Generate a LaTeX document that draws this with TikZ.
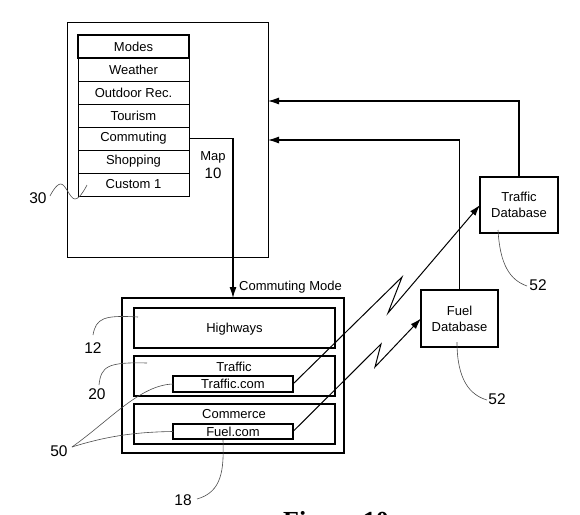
\documentclass[tikz,border=0pt]{standalone}
\usepackage{fontspec}
\setmainfont{Liberation Sans}
\newfontfamily\figfont{Liberation Serif}
\usetikzlibrary{arrows.meta}
\begin{document}
\begin{tikzpicture}[x=1pt,y=-1pt,
  box/.style={draw,line width=1.1pt,inner sep=0pt,outer sep=0pt},
  row/.style={draw,line width=0.9pt,inner sep=0pt,outer sep=0pt,minimum width=111pt,minimum height=23pt,font=\fontsize{13}{15}\selectfont},
  txt/.style={font=\fontsize{13}{15}\selectfont,inner sep=0pt},
  lbl/.style={font=\fontsize{15.5}{17}\selectfont,inner sep=0pt},
  lead/.style={draw=black!70,line width=0.6pt},
  conn/.style={draw,line width=1.1pt},
  arr/.style={-{Latex[length=11pt,width=7pt]}}]
\useasboundingbox (0,0) rectangle (580,514);
% Map box
\node[box,line width=1pt,minimum width=201pt,minimum height=235pt] (map) at (167.5,139.5) {};
\node[row,line width=2.6pt] (modes) at (133.5,46.5) {Modes};
\node[row] (weather) at (133.5,69.5) {Weather};
\node[row] (outdoor) at (133.5,92.5) {Outdoor Rec.};
\node[row] (tourism) at (133.5,115.5) {Tourism};
\node[row] (commuting) at (133.5,138.5) {Commuting};
\node[row] (shopping) at (133.5,161.5) {Shopping};
\node[row] (custom) at (133.5,184.5) {Custom 1};
\node[txt] (maplbl) at (213,157) {Map};
\node[lbl,font=\fontsize{15}{17}\selectfont] (mapnum) at (213,173) {10};
% Commuting mode box
\node[box,minimum width=222pt,minimum height=155pt] (cmode) at (233,375.5) {};
\node[txt,anchor=west] (cmodelbl) at (239,287) {Commuting Mode};
\node[box,minimum width=201pt,minimum height=40pt] (highways) at (234.5,328) {};
\node[txt] (highwaystxt) at (234.5,329) {Highways};
\node[box,minimum width=201pt,minimum height=40pt] (traffic) at (234.5,376) {};
\node[txt] (traffictxt) at (234,367) {Traffic};
\node[box,minimum width=120pt,minimum height=16pt,txt] (tcom) at (233,384) {Traffic.com};
\node[box,minimum width=201pt,minimum height=40pt] (commerce) at (234.5,424) {};
\node[txt] (commercetxt) at (234,414) {Commerce};
\node[box,minimum width=120pt,minimum height=15pt,txt] (fcom) at (233,431.5) {Fuel.com};
% Databases
\node[box,minimum width=78pt,minimum height=56pt,txt,align=center] (tdb) at (519,205) {Traffic\\[1pt]Database};
\node[box,minimum width=77pt,minimum height=57pt,txt,align=center] (fdb) at (459.5,318.5) {Fuel\\[1pt]Database};
% connectors
\coordinate (in1) at (268,101);
\coordinate (in2) at (268,140);
\draw[conn,arr] (tdb.north) |- (in1);
\draw[conn,arr] (fdb.north) |- (in2);
\draw[conn,arr] (commuting.east) -| (cmode.north);
\coordinate (z1a) at (402,277);
\coordinate (z1b) at (388,313);
\coordinate (z2a) at (381,344);
\coordinate (z2b) at (375,367);
\draw[conn,line width=1pt,arr] (tcom.east) -- (z1a) -- (z1b) -- (tdb.west);
\draw[conn,line width=1pt,arr] (fcom.east) -- (z2a) -- (z2b) -- (fdb.west);
% labels
\node[lbl] (l30) at (38,198) {30};
\node[lbl] (l12) at (93,348) {12};
\node[lbl] (l20) at (97,394) {20};
\node[lbl] (l50) at (59,451) {50};
\node[lbl] (l18) at (183,500) {18};
\node[lbl] (l52a) at (538,285) {52};
\node[lbl] (l52b) at (497,399) {52};
% leaders
\draw[lead] plot[smooth,tension=0.7] coordinates {(50,196) (61,184) (75,199) (87,185)};
\draw[lead] (93,335) .. controls (96,318) and (104,315) .. (138,317);
\draw[lead] (99,385) .. controls (101,366) and (108,362) .. (147,363);
\coordinate (l50p) at (72,447);
\draw[lead] (l50p) .. controls (110,420) and (140,385) .. (tcom.west);
\draw[lead] (l50p) .. controls (110,435) and (140,432) .. (fcom.west);
\draw[lead] (197,499) .. controls (222,492) and (224,470) .. (223,440);
\draw[lead] (498,230) .. controls (500,265) and (510,280) .. (527,286);
\draw[lead] (457,342) .. controls (457,380) and (470,395) .. (487,400);
% cut-off caption (only the tops of the letters show, as in the reference)
\node[inner sep=0pt,anchor=base west,font=\figfont\bfseries\fontsize{26}{30}\selectfont] (fig) at (283,529.5) {Figure 10};
\end{tikzpicture}
\end{document}
